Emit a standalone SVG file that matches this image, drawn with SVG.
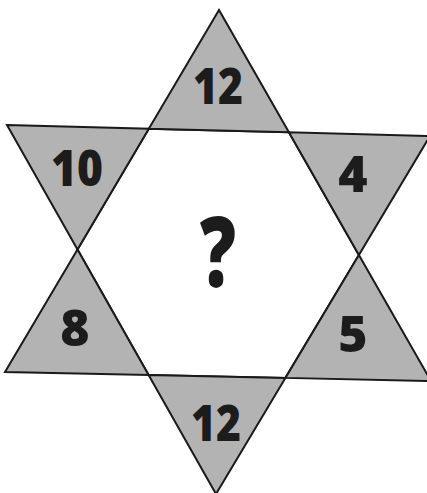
<svg xmlns="http://www.w3.org/2000/svg" width="427" height="493" viewBox="0 0 427 493">
<style>
.pt{fill:#b3b3b3;stroke:#1a1a1a;stroke-width:2;stroke-linejoin:miter}
.hex{fill:#ffffff;stroke:#1a1a1a;stroke-width:2}
.num{font-family:"Open Sans","Liberation Sans",sans-serif;font-weight:800;font-size:50px;fill:#1c1c1c;text-anchor:middle}
.q{font-family:"Open Sans","Liberation Sans",sans-serif;font-weight:800;font-size:98px;fill:#1c1c1c;text-anchor:middle}
</style>
<rect width="427" height="493" fill="#ffffff"/>
<g id="center">
<polygon class="hex" points="148.8,128.7 288.9,132.3 358.9,254.9 285.4,377.9 148.6,375.0 77.5,249.4"/>
<text class="q" x="218" y="287" textLength="36" lengthAdjust="spacingAndGlyphs">?</text>
</g>
<g id="top">
<polygon class="pt" points="219,10 288.9,132.3 148.8,128.7"/>
<text class="num" x="218" y="104" textLength="50" lengthAdjust="spacingAndGlyphs">12</text>
</g>
<g id="upper-left">
<polygon class="pt" points="7,125 148.8,128.7 77.5,249.4"/>
<text class="num" x="77" y="186" textLength="52" lengthAdjust="spacingAndGlyphs">10</text>
</g>
<g id="upper-right">
<polygon class="pt" points="430,136 358.9,254.9 288.9,132.3"/>
<text class="num" x="353" y="192">4</text>
</g>
<g id="lower-right">
<polygon class="pt" points="431,381 285.4,377.9 358.9,254.9"/>
<text class="num" x="353" y="352">5</text>
</g>
<g id="bottom">
<polygon class="pt" points="216,494 148.6,375.0 285.4,377.9"/>
<text class="num" x="216" y="441" textLength="50" lengthAdjust="spacingAndGlyphs">12</text>
</g>
<g id="lower-left">
<polygon class="pt" points="5,372 77.5,249.4 148.6,375.0"/>
<text class="num" x="75" y="346">8</text>
</g>
</svg>
